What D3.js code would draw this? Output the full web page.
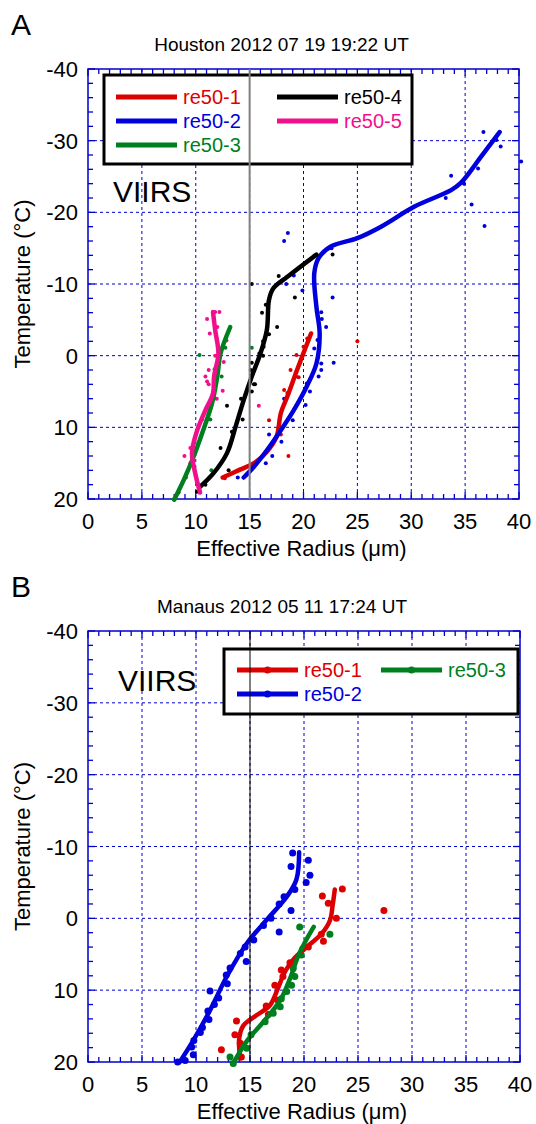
<!DOCTYPE html>
<html><head><meta charset="utf-8">
<script src="https://cdn.jsdelivr.net/npm/d3@7"></script>
<style>
body{margin:0;background:#fff;}
svg{display:block;font-family:"Liberation Sans",Arial,sans-serif;}
</style></head>
<body><svg id="c" width="536" height="1124"></svg>
<script>
// ---------- DATA ----------
const xTicks = [0,5,10,15,20,25,30,35,40];
const yTicks = [-40,-30,-20,-10,0,10,20];
const seriesNamesA = ["re50-1","re50-2","re50-3","re50-4","re50-5"];
const seriesNamesB = ["re50-1","re50-2","re50-3"];

// Panel A (Houston) fitted lines: [effective radius, temperature]
const A_re501_line = [[12.5,17],[14.1,15.9],[15.4,15],[16.6,13.4],[17.5,11.3],[17.9,8],[18.5,5.7],[19.4,2],[20.7,-3.1]];
const A_re502_line = [[14.45,17],[15.4,15.5],[16.6,13.2],[17.9,10.4],[19.1,7.6],[20.3,4.3],[21.2,1.1],[21.5,-3.1],[21.2,-6.8],[21.0,-11.5],[21.4,-13.6],[22.5,-15.2],[25.0,-16.4],[27.2,-18.0],[30.3,-20.8],[33.7,-23.1],[34.6,-24.1],[36.5,-27.8],[38.2,-31.2]];
const A_re503_line = [[8.0,20.1],[8.9,17.3],[9.8,14.1],[10.6,10.8],[11.5,6.7],[12.0,2.9],[12.3,-0.3],[13.2,-4.0]];
const A_re504_line = [[10.4,18.3],[11.65,16.4],[12.9,13.6],[13.7,9.9],[14.45,6.2],[15.2,2.9],[16.0,-0.3],[16.6,-3.6],[16.8,-7.8],[17.2,-9.4],[18.5,-11.0],[21.2,-14.1]];
const A_re505_line = [[10.4,19.1],[9.95,16.4],[9.65,13.6],[10.05,10.8],[10.9,7.6],[11.6,5.3],[11.7,2.9],[12.1,-0.3],[11.8,-3.6],[11.6,-6.1]];

// Panel A points
const A_re501_pts = [[12.7,17.1],[14.0,16.0],[16.8,9.0],[17.9,11.0],[18.6,14.0],[18.2,4.8],[18.5,5.2],[18.8,2.0],[19.3,2.9],[19.55,3.0],[19.35,-0.1],[19.7,1.0],[20.0,-1.25],[20.35,-2.4],[25.0,-2.0]];
const A_re502_pts = [[13.9,17],[16.5,15],[17.1,14],[16.8,11],[17.95,12],[18.2,6],[19.0,9.0],[20.2,6.9],[21.4,2.9],[21.65,1.1],[21.3,-2.2],[21.0,-1.0],[18.55,-17.1],[18.2,-16.0],[18.4,-10.0],[19.9,-9.1],[22.7,-8.1],[21.65,-6.05],[21.7,-5.1],[22.1,-4.0],[22.8,1.0],[21.65,2.0],[20.3,3.9],[20.6,5.0],[19.1,-11.2],[22.6,-15.0],[33.2,-22.0],[33.7,-25.1],[34.9,-24.0],[36.2,-26.1],[35.6,-21.1],[36.8,-18.1],[36.7,-31.2],[37.9,-30.1],[38.3,-29.2],[40.2,-27.1]];
const A_re503_pts = [[10.35,-0.1],[15.2,-1.1],[12.4,2.9],[11.75,1.9],[11.35,8.9],[11.45,16.0],[11.7,6.0],[12.75,-1.1],[8.0,20]];
const A_re504_pts = [[8.4,19.1],[10.1,19],[10.9,18],[13.05,16.0],[12.3,12.9],[13.35,10.6],[14.35,8.9],[12.9,7.0],[14.2,6.0],[15.1,2.0],[15.4,4.0],[15.2,1.0],[15.9,-0.3],[16.25,-2.0],[16.8,-3.0],[17.55,-4.0],[16.15,-6.0],[15.2,-10.0],[17.7,-11.1],[19.2,-8.1],[16.5,-7.1],[16.3,-1.25],[16.25,0.0],[15.5,4.0],[15.2,5.0],[22.7,-14.1]];
const A_re505_pts = [[11.05,-5.1],[12.2,-6.1],[11.8,-6.1],[11.3,-3.1],[12.0,-4.0],[12.85,-2.1],[11.8,0.0],[11.2,2.0],[10.9,2.9],[11.05,3.6],[12.6,0.9],[12.5,4.9],[11.95,6.0],[10.6,8.9],[9.5,12.9],[8.95,14.0],[9.5,15.0],[9.1,17.0],[10.4,19],[15.85,7.0],[11.2,4.0]];

// Panel B (Manaus) fitted lines
const B_re501_line = [[14.1,19.5],[14.0,16.7],[14.4,14.9],[15.6,13.5],[16.85,12.1],[17.6,9.7],[18.25,7.4],[19.15,5.5],[20.55,3.6],[21.6,2.2],[22.4,0.3],[22.65,-1.8],[22.85,-4.0]];
const B_re502_line = [[8.5,20],[9.75,17],[11.3,12.8],[12.85,8.1],[14.7,3.5],[16.55,0.2],[18.4,-3.0],[19.3,-5.4],[19.55,-9.2]];
const B_re503_line = [[13.45,20.2],[14.7,17.1],[16.25,14.4],[17.8,11.4],[18.7,8.4],[19.5,5.1],[20.1,3.3],[20.9,1.2]];

// Panel B points
const B_re501_pts = [[12.35,18.3],[14.2,19.3],[14.1,17.4],[13.6,16.2],[13.75,14.3],[16.5,12.2],[16.7,13.4],[17.6,11.4],[17.3,9.3],[18.05,8.1],[17.9,7.2],[18.7,6.2],[20.4,4.0],[21.8,3.2],[21.6,2.2],[23.0,0],[22.25,-2.1],[21.7,-3.1],[23.55,-4.1],[27.4,-1.1]];
const B_re502_pts = [[18.95,-9.1],[20.4,-8.1],[18.8,-7.2],[20.55,-6.0],[20.2,-5.0],[19.15,-4.0],[18.15,-3.0],[17.7,-2.0],[18.8,-1.1],[16.95,0.0],[16.25,1.0],[17.7,1.9],[15.35,3.0],[14.55,4.0],[14.1,4.9],[14.65,6.0],[13.15,6.9],[12.8,7.9],[12.9,9.1],[11.3,10.1],[12.1,11.1],[11.7,12.0],[11.1,12.9],[11.2,14.1],[10.6,15.2],[10.4,15.9],[9.8,17.0],[9.6,17.9],[9.75,19.0],[9.0,19.8],[8.3,20]];
const B_re503_pts = [[13.15,19.3],[13.45,20.2],[14.7,18.1],[15.1,16.2],[16.4,14.4],[17.15,13.2],[17.8,12.3],[17.9,11.2],[18.4,10.2],[18.85,9.3],[19.15,8.1],[19.0,7.0],[19.75,5.1],[19.9,4.2],[19.6,1.2],[22.4,2.2]];

// ---------- STYLE ----------
const C = {red:"#dd0000", blue:"#0000dd", green:"#007f1e", black:"#000000", pink:"#f0108c", axis:"#0000cc"};
const svg = d3.select("#c");

function panel(opt){
  const g = svg.append("g");
  const x = d3.scaleLinear().domain([0,40]).range([opt.left,opt.right]);
  const y = d3.scaleLinear().domain([-40,20]).range([opt.top,opt.bottom]);
  // panel letter and title
  g.append("text").attr("x",11).attr("y",opt.top-34).attr("font-size",30).text(opt.letter);
  g.append("text").attr("x",(opt.left+opt.right)/2-22).attr("y",opt.top-18).attr("text-anchor","middle").attr("font-size",19).text(opt.title);
  // grid
  const grid = g.append("g").attr("stroke",C.axis).attr("stroke-width",1).attr("stroke-dasharray","3,3");
  xTicks.slice(1,-1).forEach(v=>grid.append("line").attr("x1",x(v)).attr("x2",x(v)).attr("y1",opt.top).attr("y2",opt.bottom));
  yTicks.slice(1,-1).forEach(v=>grid.append("line").attr("y1",y(v)).attr("y2",y(v)).attr("x1",opt.left).attr("x2",opt.right));
  // ticks (inward, all sides)
  const tk = g.append("g").attr("stroke",C.axis).attr("stroke-width",1.3);
  d3.range(0,41,1).forEach(v=>{
    const L = v%5===0?7:5;
    tk.append("line").attr("x1",x(v)).attr("x2",x(v)).attr("y1",opt.bottom).attr("y2",opt.bottom-L);
    tk.append("line").attr("x1",x(v)).attr("x2",x(v)).attr("y1",opt.top).attr("y2",opt.top+L);
  });
  d3.range(-40,21,2).forEach(v=>{
    const L = v%10===0?7:5;
    tk.append("line").attr("y1",y(v)).attr("y2",y(v)).attr("x1",opt.left).attr("x2",opt.left+L);
    tk.append("line").attr("y1",y(v)).attr("y2",y(v)).attr("x1",opt.right).attr("x2",opt.right-L);
  });
  g.append("rect").attr("x",opt.left).attr("y",opt.top).attr("width",opt.right-opt.left).attr("height",opt.bottom-opt.top)
    .attr("fill","none").attr("stroke",C.axis).attr("stroke-width",1.5);
  // tick labels
  xTicks.forEach(v=>g.append("text").attr("x",x(v)).attr("y",opt.bottom+30).attr("text-anchor","middle").attr("font-size",22).text(v));
  yTicks.forEach(v=>g.append("text").attr("x",opt.left-10).attr("y",y(v)+8).attr("text-anchor","end").attr("font-size",22).text(v));
  // axis titles
  g.append("text").attr("x",(opt.left+opt.right)/2-2).attr("y",opt.bottom+57).attr("text-anchor","middle").attr("font-size",22)
    .text("Effective Radius (\u03bcm)");
  g.append("text").attr("transform",`translate(30,${(opt.top+opt.bottom)/2}) rotate(-90)`).attr("text-anchor","middle").attr("font-size",22)
    .text("Temperature (\u00b0C)");
  // VIIRS
  g.append("text").attr("x",opt.viirs[0]).attr("y",opt.viirs[1]).attr("font-size",30).text("VIIRS");

  const line = d3.line().x(d=>x(d[0])).y(d=>y(d[1])).curve(d3.curveCatmullRom.alpha(0.5));
  const plot = g.append("g");
  opt.series.forEach(s=>{
    plot.append("g").selectAll("circle").data(s.pts).join("circle")
      .attr("cx",d=>x(d[0])).attr("cy",d=>y(d[1])).attr("r",opt.dotR).attr("fill",s.color);
  });
  opt.series.forEach(s=>{
    plot.append("path").datum(s.line).attr("d",line).attr("fill","none").attr("stroke",s.color)
      .attr("stroke-width",4.5).attr("stroke-linecap","round").attr("stroke-linejoin","round");
  });
  // legend
  const lg = opt.legend;
  g.append("rect").attr("x",lg.x).attr("y",lg.y).attr("width",lg.w).attr("height",lg.h)
    .attr("fill","#fff").attr("stroke","#000").attr("stroke-width",3);
  opt.series.forEach((s,i)=>{
    const [lx,ly] = lg.pos[i];
    g.append("line").attr("x1",lx).attr("x2",lx+lg.len).attr("y1",ly).attr("y2",ly).attr("stroke",s.color).attr("stroke-width",5);
    g.append("circle").attr("cx",lx+lg.len/2).attr("cy",ly).attr("r",lg.dot).attr("fill",s.color);
    g.append("text").attr("x",lx+lg.len+6).attr("y",ly+7).attr("font-size",20).attr("fill",s.color).text(s.name);
  });
  // reference line at 15 um
  g.append("line").attr("x1",x(15)).attr("x2",x(15)).attr("y1",opt.top).attr("y2",opt.bottom)
    .attr("stroke",opt.refColor).attr("stroke-width",opt.refW);
}

panel({
  letter:"A", title:"Houston 2012 07 19 19:22 UT",
  left:88, right:519, top:69, bottom:499, dotR:2, viirs:[113,202],
  refColor:"#808080", refW:2,
  series:[
    {name:seriesNamesA[0], color:C.red, line:A_re501_line, pts:A_re501_pts},
    {name:seriesNamesA[1], color:C.blue, line:A_re502_line, pts:A_re502_pts},
    {name:seriesNamesA[2], color:C.green, line:A_re503_line, pts:A_re503_pts},
    {name:seriesNamesA[3], color:C.black, line:A_re504_line, pts:A_re504_pts},
    {name:seriesNamesA[4], color:C.pink, line:A_re505_line, pts:A_re505_pts}
  ],
  legend:{x:104,y:75,w:308,h:89,len:61,dot:1,pos:[[116,97],[116,121],[116,145],[277,97],[277,121]]}
});

panel({
  letter:"B", title:"Manaus 2012 05 11 17:24 UT",
  left:88, right:520, top:631, bottom:1062, dotR:3.5, viirs:[118,691],
  refColor:"#000", refW:1,
  series:[
    {name:seriesNamesB[0], color:C.red, line:B_re501_line, pts:B_re501_pts},
    {name:seriesNamesB[1], color:C.blue, line:B_re502_line, pts:B_re502_pts},
    {name:seriesNamesB[2], color:C.green, line:B_re503_line, pts:B_re503_pts}
  ],
  legend:{x:224,y:649,w:294,h:65,len:61,dot:3.5,pos:[[237,670],[237,694],[381,670]]}
});
</script></body></html>
